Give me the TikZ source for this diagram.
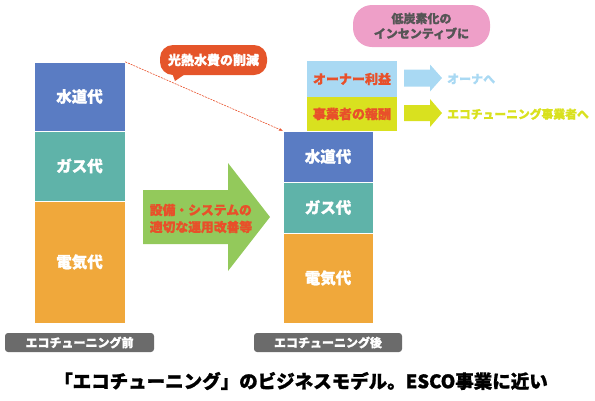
\documentclass[tikz,border=0pt]{standalone}
\usepackage{fontspec}
\setmainfont{Noto Sans CJK JP}[BoldFeatures={FakeBold=1.2}]
\usetikzlibrary{arrows.meta}
\definecolor{cblue}{HTML}{5A7CC3}
\definecolor{cteal}{HTML}{5FB3A9}
\definecolor{corange}{HTML}{F0A83B}
\definecolor{clblue}{HTML}{A9D9F3}
\definecolor{cyellow}{HTML}{D9E11F}
\definecolor{cpink}{HTML}{EE9FC8}
\definecolor{ccall}{HTML}{E5552A}
\definecolor{cgreen}{HTML}{93C95B}
\definecolor{cgray}{HTML}{6B6B6B}
\definecolor{cred}{HTML}{E8502A}
\definecolor{ctxt}{HTML}{555555}
\tikzset{
  seg/.style={inner sep=0pt, text=white, font=\bfseries\fontsize{15.5}{16}\selectfont, draw=white, line width=0.4pt},
  tag/.style={fill=cgray, rounded corners=3pt, inner sep=0pt, minimum height=19pt, text=white, font=\bfseries\fontsize{12}{13}\selectfont},
  topbox/.style={inner sep=0pt, minimum width=90pt, text=cred, font=\bfseries\fontsize{13}{14}\selectfont},
}
\begin{document}
\begin{tikzpicture}[x=1pt,y=-1pt]
\useasboundingbox (0,0) rectangle (595,400);
% left stack
\node[seg, fill=cblue, minimum width=91pt, minimum height=69pt] (lw) at (79.5,96.5) {水道代};
\node[seg, fill=cteal, minimum width=91pt, minimum height=70pt] (lg) at (79.5,166) {ガス代};
\node[seg, fill=corange, minimum width=91pt, minimum height=122pt] (le) at (79.5,262) {電気代};
\node[tag, minimum width=149pt] (lt) at (79.5,342.5) {エコチューニング前};
% right stack
\node[seg, fill=cblue, minimum width=90pt, minimum height=51pt] (rw) at (328,156.5) {水道代};
\node[seg, fill=cteal, minimum width=90pt, minimum height=51pt] (rg) at (328,207.5) {ガス代};
\node[seg, fill=corange, minimum width=90pt, minimum height=90pt] (re) at (328,278) {電気代};
\node[tag, minimum width=148pt] (rt) at (328,342.5) {エコチューニング後};
% top boxes
\node[topbox, fill=clblue, minimum height=36pt] (ob) at (352,79) {オーナー利益};
\node[topbox, fill=cyellow, minimum height=34pt] (eb) at (352,114) {事業者の報酬};
% small arrows
\fill[clblue] (404,69.5) -- (430,69.5) -- (430,64.5) -- (442,78) -- (430,91.5) -- (430,86.5) -- (404,86.5) -- cycle;
\fill[cyellow] (404,105) -- (430,105) -- (430,99) -- (442,113) -- (430,127) -- (430,121) -- (404,121) -- cycle;
\node[anchor=west, inner sep=0pt, text=clblue, font=\bfseries\fontsize{12}{13}\selectfont] (ot) at (447,79) {オーナへ};
\node[anchor=west, inner sep=0pt, text=cyellow, font=\bfseries\fontsize{11.8}{13}\selectfont] (et) at (447,114) {エコチューニング事業者へ};
% pink
\node[fill=cpink, rounded corners=19pt, minimum width=137pt, minimum height=42pt, inner sep=0pt, align=center, text=ctxt, font=\bfseries\fontsize{12}{15}\selectfont] (pk) at (421.5,26) {低炭素化の\\インセンティブに};
% callout
\fill[ccall] (171,70) -- (191,70) -- (175,81) -- cycle;
\node[fill=ccall, rounded corners=13pt, minimum width=107pt, minimum height=30pt, inner sep=0pt, text=white, font=\bfseries\fontsize{13}{14}\selectfont] (co) at (213.5,60) {光熱水費の削減};
% dashed line
\draw[cred, dashed, dash pattern=on 2pt off 1pt, line width=0.6pt, -{Stealth[length=4pt,width=3pt]}] (lw.north east) -- (rw.north west);
% green arrow
\fill[cgreen] (143,190) -- (228,190) -- (228,163) -- (270,217) -- (228,271) -- (228,244) -- (143,244) -- cycle;
\node[align=left, inner sep=0pt, text=cred, font=\bfseries\fontsize{12.8}{17}\selectfont] (ga) at (201,218.5) {設備・システムの\\適切な運用改善等};
% caption
\node[inner sep=0pt, font=\bfseries\fontsize{18.5}{20}\selectfont] (cap) at (301,381) {「エコチューニング」のビジネスモデル。ESCO事業に近い};
\end{tikzpicture}
\end{document}
